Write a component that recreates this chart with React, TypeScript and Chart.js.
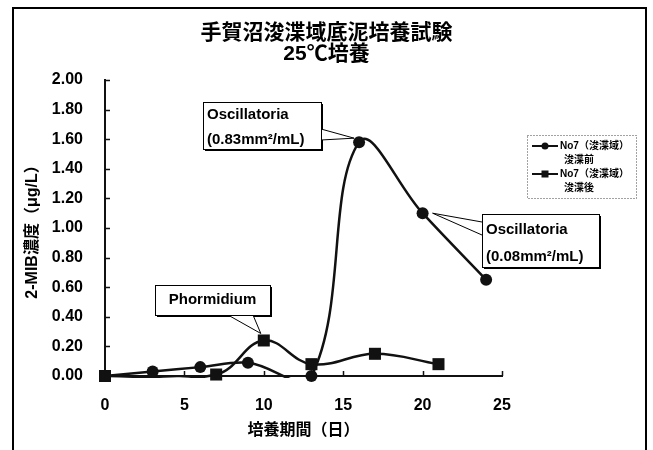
import React, { useEffect, useRef } from 'react';
import { Chart, registerables } from 'chart.js';

Chart.register(...registerables);

const FONT = "'Liberation Sans', 'Noto Sans CJK JP', sans-serif";

// ---- data ----
const chartTitle = ['手賀沼浚渫域底泥培養試験', '25℃培養'];
const xAxisLabel = '培養期間（日）';
const yAxisLabel = '2-MIB濃度（μg/L）';
const xMin = 0;
const xMax = 25;
const xStep = 5;
const yMin = 0;
const yMax = 2;
const yStep = 0.2;

const seriesLabels = [
  ['No7（浚渫域）', '浚渫前'],
  ['No7（浚渫域）', '浚渫後'],
];
const daysBefore = [0, 3, 6, 9, 13, 16, 20, 24];
const mibBefore = [0.0, 0.03, 0.06, 0.09, 0.0, 1.58, 1.1, 0.65];
const daysAfter = [0, 7, 10, 13, 17, 21];
const mibAfter = [0.0, 0.01, 0.24, 0.08, 0.15, 0.08];

const calloutTexts = [
  ['Oscillatoria', '(0.83mm²/mL)'],
  ['Oscillatoria', '(0.08mm²/mL)'],
  ['Phormidium'],
];

// ---- layout of decorations (pixels) ----
const calloutLayout = [
  { series: 0, index: 5, box: [203, 102, 118, 47], base: [[321, 129], [321, 140]], tip: [-5, -4], lines: [115, 140], center: false },
  { series: 0, index: 6, box: [482, 214, 117, 53], base: [[482, 222], [482, 235]], tip: [10, 0], lines: [230, 257], center: false },
  { series: 1, index: 2, box: [155, 285, 115, 30], base: [[228, 315], [253, 315]], tip: [-3, -7], lines: [300], center: true },
];

const INK = '#111';

const seriesX = [daysBefore, daysAfter];
const seriesY = [mibBefore, mibAfter];

const framePlugin = {
  id: 'frame',
  beforeDraw(chart: any) {
    const { ctx } = chart;
    ctx.save();
    ctx.fillStyle = '#fff';
    ctx.fillRect(0, 0, chart.width, chart.height);
    ctx.strokeStyle = '#000';
    ctx.lineWidth = 2;
    ctx.strokeRect(13, 8, 633, 470);
    ctx.restore();
  },
};

const innerTicksPlugin = {
  id: 'innerTicks',
  beforeDatasetsDraw(chart: any) {
    const { ctx, chartArea } = chart;
    const xs = chart.scales.x;
    const ys = chart.scales.y;
    ctx.save();
    ctx.strokeStyle = INK;
    ctx.lineWidth = 1.5;
    ctx.beginPath();
    ys.ticks.forEach((t: any) => {
      const py = Math.round(ys.getPixelForValue(t.value)) + 0.5;
      ctx.moveTo(chartArea.left, py);
      ctx.lineTo(chartArea.left + 5, py);
    });
    xs.ticks.forEach((t: any) => {
      const px = Math.round(xs.getPixelForValue(t.value)) + 0.5;
      ctx.moveTo(px, chartArea.bottom);
      ctx.lineTo(px, chartArea.bottom - 5);
    });
    ctx.stroke();
    ctx.restore();
  },
};

const calloutPlugin = {
  id: 'callouts',
  afterDatasetsDraw(chart: any) {
    const { ctx } = chart;
    const xs = chart.scales.x;
    const ys = chart.scales.y;
    ctx.save();
    calloutLayout.forEach((c, k) => {
      const ax = xs.getPixelForValue(seriesX[c.series][c.index]) + c.tip[0];
      const ay = ys.getPixelForValue(seriesY[c.series][c.index]) + c.tip[1];
      const [bx, by, bw, bh] = c.box;
      ctx.fillStyle = '#000';
      ctx.fillRect(bx + 2, by + 2, bw, bh);
      ctx.fillStyle = '#fff';
      ctx.beginPath();
      ctx.moveTo(c.base[0][0], c.base[0][1]);
      ctx.lineTo(ax, ay);
      ctx.lineTo(c.base[1][0], c.base[1][1]);
      ctx.closePath();
      ctx.fill();
      ctx.strokeStyle = '#000';
      ctx.lineWidth = 1;
      ctx.beginPath();
      ctx.moveTo(c.base[0][0], c.base[0][1]);
      ctx.lineTo(ax, ay);
      ctx.lineTo(c.base[1][0], c.base[1][1]);
      ctx.stroke();
      ctx.fillStyle = '#fff';
      ctx.fillRect(bx, by, bw, bh);
      ctx.strokeRect(bx + 0.5, by + 0.5, bw, bh);
      ctx.fillStyle = '#000';
      ctx.font = `bold 15px ${FONT}`;
      ctx.textBaseline = 'middle';
      ctx.textAlign = c.center ? 'center' : 'left';
      calloutTexts[k].forEach((t, i) => {
        ctx.fillText(t, c.center ? bx + bw / 2 : bx + 4, c.lines[i]);
      });
    });
    ctx.restore();
  },
};

const legendPlugin = {
  id: 'customLegend',
  afterDraw(chart: any) {
    const { ctx } = chart;
    ctx.save();
    ctx.strokeStyle = '#444';
    ctx.lineWidth = 1;
    ctx.setLineDash([1, 2]);
    ctx.strokeRect(527.5, 135.5, 109, 63);
    ctx.setLineDash([]);
    const rows = [146, 174];
    rows.forEach((ry, i) => {
      ctx.strokeStyle = INK;
      ctx.lineWidth = 2;
      ctx.beginPath();
      ctx.moveTo(532, ry);
      ctx.lineTo(558, ry);
      ctx.stroke();
      ctx.fillStyle = INK;
      if (i === 0) {
        ctx.beginPath();
        ctx.arc(545, ry, 3.5, 0, Math.PI * 2);
        ctx.fill();
      } else {
        ctx.fillRect(541.5, ry - 3.5, 7, 7);
      }
      ctx.fillStyle = '#000';
      ctx.font = `bold 10px ${FONT}`;
      ctx.textAlign = 'left';
      ctx.textBaseline = 'middle';
      ctx.fillText(seriesLabels[i][0], 560, ry);
      ctx.fillText(seriesLabels[i][1], 564, ry + 14);
    });
    ctx.restore();
  },
};

export default function App() {
  const ref = useRef<HTMLCanvasElement>(null);

  useEffect(() => {
    const ptsBefore = daysBefore.map((d, i) => ({ x: d, y: mibBefore[i] }));
    const ptsAfter = daysAfter.map((d, i) => ({ x: d, y: mibAfter[i] }));
    const chart = new Chart(ref.current as HTMLCanvasElement, {
      type: 'line',
      data: {
        datasets: [
          {
            label: seriesLabels[0].join(''),
            data: ptsBefore,
            showLine: false,
            pointStyle: 'circle',
            pointRadius: 6,
            pointBackgroundColor: INK,
            pointBorderColor: INK,
            pointBorderWidth: 0,
            clip: false as any,
            order: 0,
            yAxisID: 'y',
          },
          {
            label: seriesLabels[1].join(''),
            data: ptsAfter,
            showLine: false,
            pointStyle: 'rect',
            pointRadius: 8.5,
            pointBackgroundColor: INK,
            pointBorderColor: INK,
            pointBorderWidth: 0,
            clip: false as any,
            order: 0,
            yAxisID: 'y',
          },
          {
            label: seriesLabels[0].join('') + ' line',
            data: ptsBefore,
            borderColor: INK,
            borderWidth: 2.5,
            pointRadius: 0,
            tension: 0.4,
            clip: { left: 5, right: 5, top: 5, bottom: 2 } as any,
            order: 1,
            yAxisID: 'y',
          },
          {
            label: seriesLabels[1].join('') + ' line',
            data: ptsAfter,
            borderColor: INK,
            borderWidth: 2.5,
            pointRadius: 0,
            tension: 0.4,
            clip: { left: 5, right: 5, top: 5, bottom: 2 } as any,
            order: 1,
            yAxisID: 'y',
          },
        ],
      },
      options: {
        responsive: false,
        animation: false,
        devicePixelRatio: 1,
        layout: { padding: { left: 0, right: 0, top: 0, bottom: 0 } },
        elements: { line: { capBezierPoints: false } },
        plugins: {
          legend: { display: false },
          tooltip: { enabled: false },
          title: {
            display: true,
            text: chartTitle,
            color: '#000',
            font: { family: FONT, size: 21, weight: 'bold', lineHeight: 1.0 },
            padding: { top: 23, bottom: 15 },
          },
        },
        scales: {
          x: {
            type: 'linear',
            min: xMin,
            max: xMax,
            afterFit: (s: any) => {
              s.height = 74;
            },
            ticks: {
              stepSize: xStep,
              color: '#000',
              padding: 20,
              font: { family: FONT, size: 16, weight: 'bold' },
              maxRotation: 0,
            },
            grid: { display: true, drawOnChartArea: false, drawTicks: false },
            border: { display: true, color: INK, width: 2 },
            title: {
              display: true,
              text: xAxisLabel,
              color: '#000',
              font: { family: FONT, size: 16, weight: 'bold' },
              padding: { top: 0, bottom: 10 },
            },
          },
          y: {
            type: 'linear',
            position: 'left',
            min: yMin,
            max: yMax,
            afterFit: (s: any) => {
              s.width = 105;
            },
            ticks: {
              stepSize: yStep,
              color: '#000',
              padding: 22,
              font: { family: FONT, size: 16, weight: 'bold' },
              callback: (v: any) => Number(v).toFixed(2),
            },
            grid: { display: true, drawOnChartArea: false, drawTicks: false },
            border: { display: true, color: INK, width: 2 },
            title: {
              display: true,
              text: yAxisLabel,
              color: '#000',
              font: { family: FONT, size: 16, weight: 'bold' },
              padding: { top: 23, bottom: 0 },
            },
          },
          yR: {
            type: 'linear',
            position: 'right',
            display: true,
            afterFit: (s: any) => {
              s.width = 151;
            },
            ticks: { display: false },
            grid: { display: false },
            border: { display: false },
          },
        },
      },
      plugins: [framePlugin, innerTicksPlugin, calloutPlugin, legendPlugin],
    } as any);
    return () => chart.destroy();
  }, []);

  return (
    <div style={{ position: 'absolute', left: 0, top: 0, width: 653, height: 450 }}>
      <canvas ref={ref} width={653} height={450} style={{ display: 'block', width: 653, height: 450 }} />
    </div>
  );
}
